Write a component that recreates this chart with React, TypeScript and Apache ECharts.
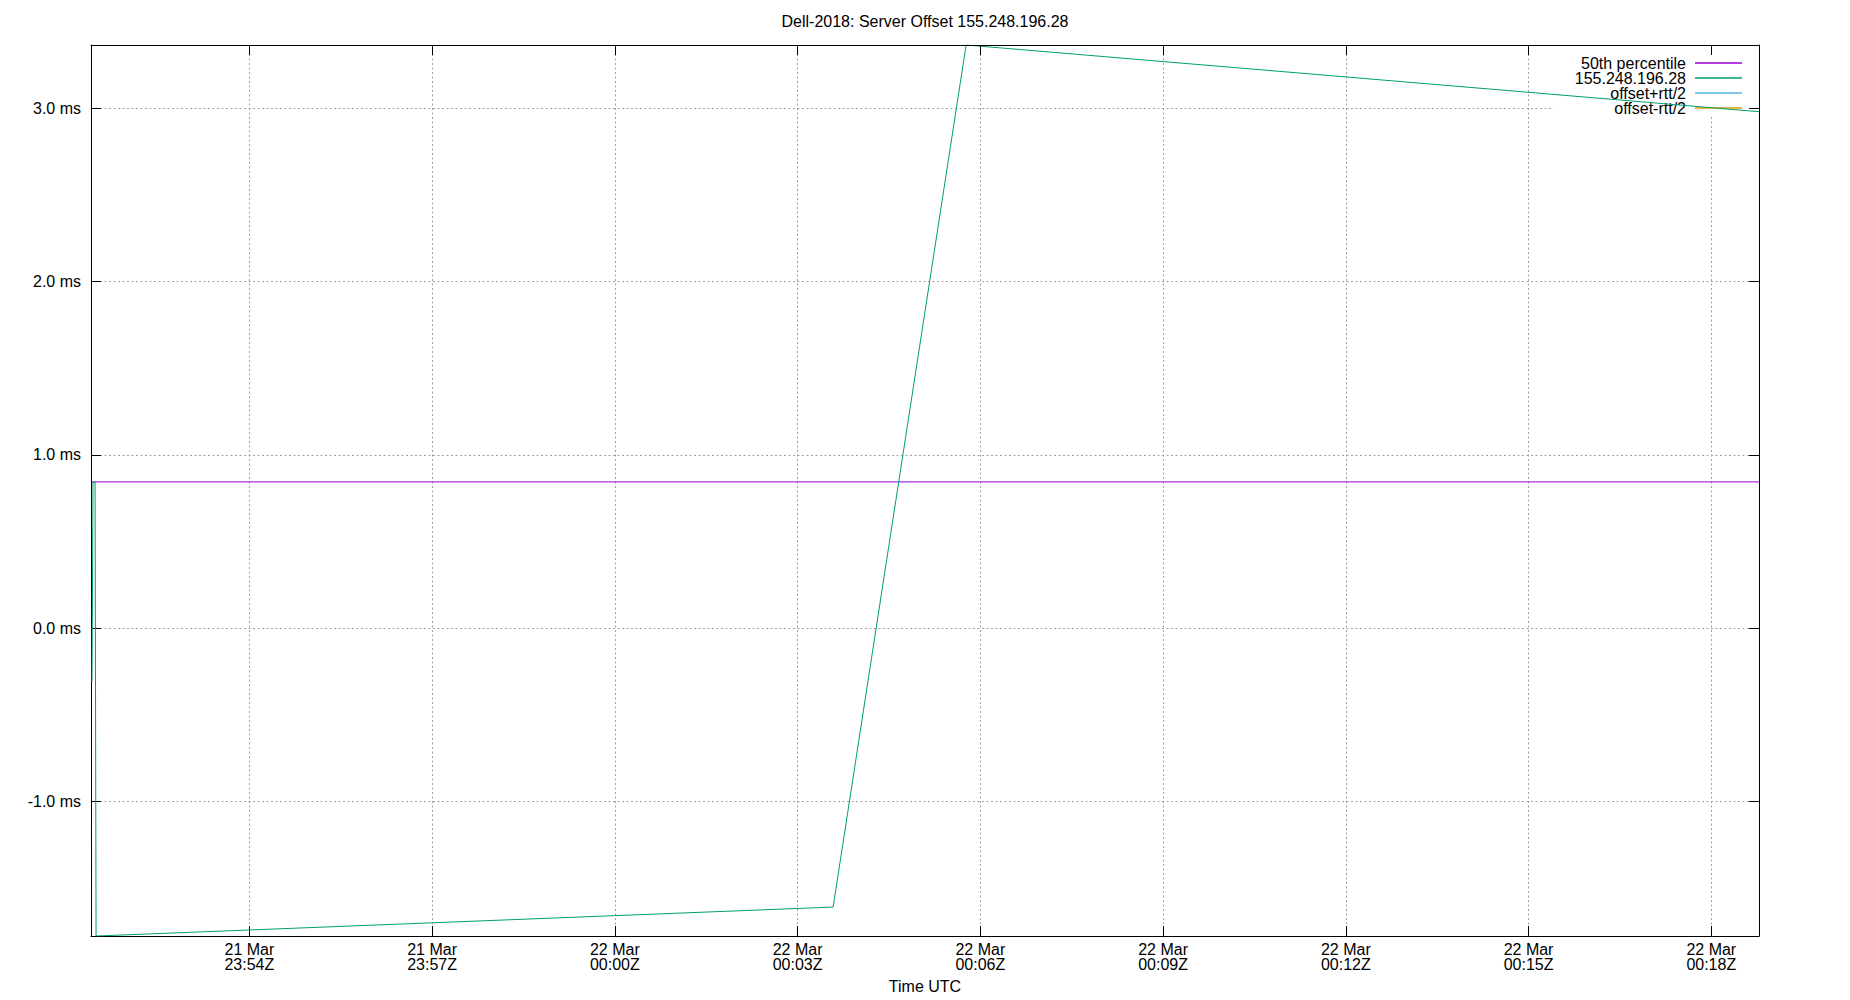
import { useEffect, useRef } from 'react';
import * as echarts from 'echarts';

const chartTitle = 'Dell-2018: Server Offset 155.248.196.28';
const seriesNames = ['50th percentile', '155.248.196.28', 'offset+rtt/2', 'offset-rtt/2'];
const seriesColors = ['#9400d3', '#009e73', '#56b4e9', '#e69f00'];

// plotted time window
const windowStart = '2019-03-21T23:51:24Z';
const windowEnd = '2019-03-22T00:18:47Z';

// chrony samples for the server
const sampleTimes = [
  '2019-03-21T23:51:25Z',
  '2019-03-21T23:51:26Z',
  '2019-03-21T23:51:28Z',
  '2019-03-21T23:51:29Z',
  '2019-03-22T00:03:35Z',
  '2019-03-22T00:05:46Z',
  '2019-03-22T00:18:47Z',
];
const offsetMs = [-0.308, 0.844, 0.844, -1.777, -1.61, 3.366, 2.981];
const medianMs = 0.844;
// offset +/- rtt/2 have no points inside the plotted window
const offsetPlusRtt: [number, number][] = [];
const offsetMinusRtt: [number, number][] = [];

const xTickTimes = [
  '2019-03-21T23:54:00Z',
  '2019-03-21T23:57:00Z',
  '2019-03-22T00:00:00Z',
  '2019-03-22T00:03:00Z',
  '2019-03-22T00:06:00Z',
  '2019-03-22T00:09:00Z',
  '2019-03-22T00:12:00Z',
  '2019-03-22T00:15:00Z',
  '2019-03-22T00:18:00Z',
];
const yTicks = [-1, 0, 1, 2, 3];

const FONT = 'Liberation Sans';
const pad = (n: number) => String(n).padStart(2, '0');
const fmtTime = (v: number) => {
  const d = new Date(v);
  return `${d.getUTCDate()} Mar\n${pad(d.getUTCHours())}:${pad(d.getUTCMinutes())}Z`;
};

export default function App() {
  const chartRef = useRef<HTMLDivElement | null>(null);

  useEffect(() => {
    if (!chartRef.current) {
      return;
    }
    const chart = echarts.init(chartRef.current, null, { renderer: 'svg' });
    const times = sampleTimes.map((t) => Date.parse(t));
    const xTicks = xTickTimes.map((t) => Date.parse(t));
    const xMin = Date.parse(windowStart);
    const xMax = Date.parse(windowEnd);
    const yMin = Math.min(...offsetMs);
    const yMax = Math.max(...offsetMs);
    const gridLine = { show: true, lineStyle: { color: '#a0a0a0', width: 1, type: [2, 2.5] } };

    chart.setOption({
      animation: false,
      backgroundColor: '#fff',
      textStyle: { fontFamily: FONT },
      title: {
        text: chartTitle,
        left: 'center',
        top: 8,
        textStyle: { fontFamily: FONT, fontSize: 16, fontWeight: 'normal', color: '#000' },
      },
      legend: {
        orient: 'vertical',
        align: 'right',
        right: 98,
        top: 45,
        z: 1,
        padding: [10, 10, 0, 21],
        backgroundColor: '#fff',
        itemGap: -1,
        itemWidth: 47,
        itemHeight: 1.5,
        icon: 'rect',
        selectedMode: false,
        data: seriesNames,
        textStyle: { fontFamily: FONT, fontSize: 16, lineHeight: 15, color: '#000', padding: [0, 4, 0, 0] },
      },
      grid: { left: 91, right: 91, top: 45, bottom: 64, outerBoundsMode: 'none' },
      xAxis: [
        {
          type: 'value',
          min: xMin,
          max: xMax,
          z: 0,
          name: 'Time UTC',
          nameLocation: 'middle',
          nameGap: 42,
          nameMoveOverlap: false,
          nameTextStyle: { fontFamily: FONT, fontSize: 16, color: '#000' },
          axisLine: { show: true, onZero: false, lineStyle: { color: '#000', width: 1 } },
          axisTick: { show: true, inside: true, length: 10, customValues: xTicks, lineStyle: { color: '#000' } },
          axisLabel: {
            customValues: xTicks,
            formatter: fmtTime,
            margin: 6,
            fontFamily: FONT,
            fontSize: 16,
            lineHeight: 15,
            color: '#000',
          },
          splitLine: gridLine,
        },
        {
          type: 'value',
          position: 'top',
          min: xMin,
          max: xMax,
          z: 3,
          axisLine: { show: true, onZero: false, lineStyle: { color: '#000', width: 1 } },
          axisTick: { show: true, inside: true, length: 10, customValues: xTicks, lineStyle: { color: '#000' } },
          axisLabel: { show: false },
          splitLine: { show: false },
        },
      ],
      yAxis: [
        {
          type: 'value',
          min: yMin,
          max: yMax,
          z: 0,
          axisLine: { show: true, onZero: false, lineStyle: { color: '#000', width: 1 } },
          axisTick: { show: true, inside: true, length: 10, customValues: yTicks, lineStyle: { color: '#000' } },
          axisLabel: {
            customValues: yTicks,
            formatter: (v: number) => `${v.toFixed(1)} ms`,
            margin: 10,
            fontFamily: FONT,
            fontSize: 16,
            color: '#000',
          },
          splitLine: gridLine,
        },
        {
          type: 'value',
          position: 'right',
          min: yMin,
          max: yMax,
          z: 3,
          axisLine: { show: true, onZero: false, lineStyle: { color: '#000', width: 1 } },
          axisTick: { show: true, inside: true, length: 10, customValues: yTicks, lineStyle: { color: '#000' } },
          axisLabel: { show: false },
          splitLine: { show: false },
        },
      ],
      series: [
        {
          name: seriesNames[0],
          type: 'line',
          data: [
            [times[0], medianMs],
            [times[times.length - 1], medianMs],
          ],
        },
        {
          name: seriesNames[1],
          type: 'line',
          data: times.map((t, i) => [t, offsetMs[i]]),
        },
        { name: seriesNames[2], type: 'line', data: offsetPlusRtt },
        { name: seriesNames[3], type: 'line', data: offsetMinusRtt },
      ].map((s, i) => ({
        ...s,
        z: 2,
        silent: true,
        showSymbol: false,
        color: seriesColors[i],
        lineStyle: { color: seriesColors[i], width: 1 },
        emphasis: { disabled: true },
      })),
    });

    return () => {
      chart.dispose();
    };
  }, []);

  return (
    <div
      ref={chartRef}
      style={{ position: 'absolute', left: 0, top: 0, width: 1850, height: 1000, background: '#fff' }}
    />
  );
}
